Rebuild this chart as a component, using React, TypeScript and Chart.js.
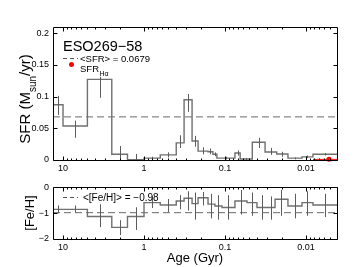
import React, { useEffect, useRef } from "react";
import { Chart, registerables } from "chart.js";

Chart.register(...registerables);

const FONT = "'Liberation Sans', Arial, Helvetica, sans-serif";

// Axis range (age in Gyr, reversed log axis)
const AGE_MIN = 0.00414;
const AGE_MAX = 13.3;
const xTickValues = [10, 1, 0.1, 0.01];
const xTickLabels = ["10", "1", "0.1", "0.01"];

const sfrTickValues = [0, 0.05, 0.1, 0.15, 0.2];
const sfrTickLabels = ["0", "0.05", "0.1", "0.15", "0.2"];
const SFR_MAX = 0.2095;

const fehTickValues = [-2, -1, 0];
const fehTickLabels = ["\u22122", "\u22121", "0"];

// SFR history (bin edges in Gyr, oldest first)
const sfrEdges = [13.3, 10, 5.0, 2.5, 1.6, 1.0, 0.63, 0.4, 0.32, 0.255, 0.215, 0.162, 0.141, 0.126, 0.0754, 0.065, 0.046, 0.032, 0.023, 0.0167, 0.0112, 0.0082, 0.00414];
const sfrValues = [0.087, 0.0536, 0.127, 0.009, 0.0005, 0.003, 0.008, 0.027, 0.095, 0.03, 0.014, 0.013, 0.009, 0.003, 0.011, 0.0015, 0.028, 0.0126, 0.0095, 0.003, 0.005, 0.009];
const sfrErrLo = [0.071, 0.035, 0.098, 0.0, 0.0, 0.001, 0.004, 0.019, 0.076, 0.021, 0.009, 0.009, 0.006, 0.001, 0.007, 0.0, 0.019, 0.008, 0.005, 0.001, 0.003, 0.007];
const sfrErrHi = [0.101, 0.062, 0.131, 0.022, 0.0095, 0.005, 0.012, 0.039, 0.104, 0.038, 0.02, 0.018, 0.012, 0.005, 0.015, 0.003, 0.035, 0.019, 0.013, 0.004, 0.007, 0.011];
const meanSfr = 0.0679;

// H-alpha SFR
const haAge = 0.0052;
const haSfr = 0.001;
const haRange = [0.0082, 0.00414];

// [Fe/H] history
const fehEdges = [13.3, 10, 5.0, 2.5, 1.6, 1.0, 0.63, 0.4, 0.32, 0.255, 0.215, 0.162, 0.133, 0.109, 0.0754, 0.0535, 0.0403, 0.0303, 0.0241, 0.0167, 0.0112, 0.0082, 0.00414];
const fehValues = [-0.85, -0.85, -1.13, -1.55, -1.13, -0.59, -0.68, -0.53, -0.42, -0.63, -0.4, -0.65, -0.72, -0.78, -0.53, -0.59, -0.78, -0.78, -0.46, -0.72, -0.59, -0.68];
const fehErrLo = [-1.0, -0.97, -1.54, -1.85, -1.65, -0.8, -0.95, -0.85, -0.9, -1.25, -0.7, -1.2, -1.25, -1.25, -1.05, -1.1, -1.25, -1.25, -1.1, -1.2, -1.1, -1.15];
const fehErrHi = [-0.7, -0.7, -0.65, -1.27, -0.77, -0.35, -0.45, -0.3, -0.15, -0.2, -0.18, -0.25, -0.3, -0.3, -0.1, -0.2, -0.3, -0.35, -0.1, -0.25, -0.15, -0.25];
const meanFeh = -0.98;

function histPoints(edges: number[], values: number[]) {
  const pts = values.map((v, i) => ({ x: edges[i], y: v }));
  pts.push({ x: edges[edges.length - 1], y: values[values.length - 1] });
  return pts;
}

function drawFrame(chart: any, yMajors: number[]) {
  const { ctx, chartArea: a, scales } = chart;
  const xs = scales.x;
  const ys = scales.y;
  ctx.save();
  ctx.strokeStyle = "#000";
  ctx.lineWidth = 1;
  const L = Math.round(a.left) + 0.5;
  const R = Math.round(a.right) + 0.5;
  const T = Math.round(a.top) + 0.5;
  const B = Math.round(a.bottom) + 0.5;
  ctx.beginPath();
  ctx.rect(L, T, R - L, B - T);
  for (let e = -3; e <= 1; e++) {
    for (let k = 1; k <= 9; k++) {
      const v = k * Math.pow(10, e);
      if (v < AGE_MIN || v > AGE_MAX) continue;
      const px = Math.round(xs.getPixelForValue(v)) + 0.5;
      const len = k === 1 ? 4 : 2;
      ctx.moveTo(px, B);
      ctx.lineTo(px, B - len);
      ctx.moveTo(px, T);
      ctx.lineTo(px, T + len);
    }
  }
  for (const v of yMajors) {
    const py = Math.round(ys.getPixelForValue(v)) + 0.5;
    ctx.moveTo(L, py);
    ctx.lineTo(L + 4, py);
    ctx.moveTo(R, py);
    ctx.lineTo(R - 4, py);
  }
  ctx.stroke();
  ctx.restore();
}

function drawErrorBars(chart: any, edges: number[], lo: number[], hi: number[], color: string) {
  const { ctx, chartArea: a, scales } = chart;
  ctx.save();
  ctx.beginPath();
  ctx.rect(a.left, a.top, a.right - a.left, a.bottom - a.top);
  ctx.clip();
  ctx.strokeStyle = color;
  ctx.lineWidth = 1;
  ctx.beginPath();
  for (let i = 0; i < lo.length; i++) {
    const xc = Math.sqrt(edges[i] * edges[i + 1]);
    const px = Math.round(scales.x.getPixelForValue(xc)) + 0.5;
    ctx.moveTo(px, scales.y.getPixelForValue(lo[i]));
    ctx.lineTo(px, scales.y.getPixelForValue(hi[i]));
  }
  ctx.stroke();
  ctx.restore();
}

function drawRotated(ctx: any, cx: number, cy: number, parts: { t: string; size: number; dy: number }[]) {
  ctx.save();
  ctx.translate(cx, cy);
  ctx.rotate(-Math.PI / 2);
  ctx.fillStyle = "#000";
  ctx.textBaseline = "middle";
  ctx.textAlign = "left";
  let total = 0;
  for (const p of parts) {
    ctx.font = `${p.size}px ${FONT}`;
    total += ctx.measureText(p.t).width;
  }
  let x = -total / 2;
  for (const p of parts) {
    ctx.font = `${p.size}px ${FONT}`;
    ctx.fillText(p.t, x, p.dy);
    x += ctx.measureText(p.t).width;
  }
  ctx.restore();
}

function dashSample(ctx: any, x0: number, x1: number, y: number) {
  ctx.save();
  ctx.strokeStyle = "#555";
  ctx.lineWidth = 1;
  ctx.setLineDash([4, 3]);
  ctx.beginPath();
  ctx.moveTo(x0, y);
  ctx.lineTo(x1, y);
  ctx.stroke();
  ctx.restore();
}

function xScale(height: number) {
  return {
    type: "logarithmic" as const,
    reverse: true,
    min: AGE_MIN,
    max: AGE_MAX,
    grid: { display: false, drawTicks: false },
    border: { display: false },
    afterBuildTicks: (s: any) => {
      s.ticks = xTickValues.map((v) => ({ value: v }));
    },
    afterFit: (s: any) => {
      s.height = height;
    },
    ticks: {
      autoSkip: false,
      maxRotation: 0,
      padding: 3,
      color: "#000",
      font: { family: FONT, size: 9 },
      callback: (_v: any, i: number) => xTickLabels[i],
    },
  };
}

function yScale(min: number, max: number, vals: number[], labels: string[]) {
  return {
    type: "linear" as const,
    min,
    max,
    grid: { display: false, drawTicks: false },
    border: { display: false },
    afterBuildTicks: (s: any) => {
      s.ticks = vals.map((v) => ({ value: v }));
    },
    afterFit: (s: any) => {
      s.width = 53;
    },
    ticks: {
      autoSkip: false,
      padding: 4,
      color: "#000",
      font: { family: FONT, size: 9 },
      callback: (_v: any, i: number) => labels[i],
    },
  };
}

const HIST_COLOR = "#707070";
const ERR_COLOR = "#5c5c5c";
const MEAN_COLOR = "#6a6a6a";

export default function App() {
  const topRef = useRef<HTMLCanvasElement>(null);
  const botRef = useRef<HTMLCanvasElement>(null);

  useEffect(() => {
    const topPlugin = {
      id: "topPanel",
      afterDatasetsDraw(chart: any) {
        drawErrorBars(chart, sfrEdges, sfrErrLo, sfrErrHi, ERR_COLOR);
      },
      afterDraw(chart: any) {
        const ctx = chart.ctx;
        drawFrame(chart, sfrTickValues);
        ctx.save();
        ctx.fillStyle = "#000";
        ctx.textBaseline = "alphabetic";
        ctx.textAlign = "left";
        ctx.font = `14.5px ${FONT}`;
        ctx.fillText("ESO269\u221258", 63, 50.5);
        ctx.font = `9.5px ${FONT}`;
        ctx.fillText("<SFR> = 0.0679", 80, 62);
        ctx.fillText("SFR", 80, 71.5);
        const w = ctx.measureText("SFR").width;
        ctx.font = `7px ${FONT}`;
        ctx.fillText("H\u03b1", 80 + w + 0.5, 76);
        ctx.fillStyle = "#ff0000";
        ctx.beginPath();
        ctx.arc(71.5, 64.5, 2.5, 0, Math.PI * 2);
        ctx.fill();
        ctx.restore();
        dashSample(ctx, 63, 78, 58.5);
        drawRotated(ctx, 26, 99, [
          { t: "SFR (M", size: 15, dy: 0 },
          { t: "sun", size: 10, dy: 7 },
          { t: "/yr)", size: 15, dy: 0 },
        ]);
      },
    };

    const botPlugin = {
      id: "botPanel",
      afterDatasetsDraw(chart: any) {
        drawErrorBars(chart, fehEdges, fehErrLo, fehErrHi, ERR_COLOR);
      },
      afterDraw(chart: any) {
        const ctx = chart.ctx;
        drawFrame(chart, fehTickValues);
        dashSample(ctx, 63, 78, 19.5);
        ctx.save();
        ctx.fillStyle = "#000";
        ctx.textAlign = "left";
        ctx.textBaseline = "alphabetic";
        ctx.font = `10px ${FONT}`;
        ctx.fillText("<[Fe/H]> = \u22120.98", 83, 23);
        ctx.font = `13px ${FONT}`;
        ctx.textAlign = "center";
        ctx.textBaseline = "middle";
        ctx.fillText("Age (Gyr)", 195, 80);
        ctx.restore();
        drawRotated(ctx, 30, 35, [{ t: "[Fe/H]", size: 13, dy: 0 }]);
      },
    };

    const top = new Chart(topRef.current as HTMLCanvasElement, {
      type: "line",
      data: {
        datasets: [
          {
            data: histPoints(sfrEdges, sfrValues),
            stepped: "before",
            borderColor: HIST_COLOR,
            borderWidth: 1.4,
            pointRadius: 0,
            fill: false,
          },
          {
            data: [
              { x: AGE_MAX, y: meanSfr },
              { x: AGE_MIN, y: meanSfr },
            ],
            borderColor: MEAN_COLOR,
            borderWidth: 1,
            borderDash: [7, 4],
            pointRadius: 0,
            fill: false,
          },
          {
            data: [
              { x: haRange[0], y: haSfr },
              { x: haRange[1], y: haSfr },
            ],
            borderColor: "#ff0000",
            borderWidth: 1,
            pointRadius: 0,
            fill: false,
            clip: false as any,
          },
          {
            data: [{ x: haAge, y: haSfr }],
            showLine: false,
            pointRadius: 2.5,
            pointBackgroundColor: "#ff0000",
            pointBorderColor: "#ff0000",
            pointBorderWidth: 0,
            clip: false as any,
          },
        ],
      } as any,
      options: {
        animation: false,
        responsive: false,
        devicePixelRatio: 1,
        events: [],
        layout: { padding: { top: 27, right: 18, left: 0, bottom: 0 } },
        plugins: { legend: { display: false }, tooltip: { enabled: false } },
        scales: {
          x: xScale(18),
          y: yScale(0, SFR_MAX, sfrTickValues, sfrTickLabels),
        } as any,
      },
      plugins: [topPlugin],
    });

    const bot = new Chart(botRef.current as HTMLCanvasElement, {
      type: "line",
      data: {
        datasets: [
          {
            data: histPoints(fehEdges, fehValues),
            stepped: "before",
            borderColor: HIST_COLOR,
            borderWidth: 1.4,
            pointRadius: 0,
            fill: false,
          },
          {
            data: [
              { x: AGE_MAX, y: meanFeh },
              { x: AGE_MIN, y: meanFeh },
            ],
            borderColor: MEAN_COLOR,
            borderWidth: 1,
            borderDash: [7, 4],
            pointRadius: 0,
            fill: false,
          },
        ],
      } as any,
      options: {
        animation: false,
        responsive: false,
        devicePixelRatio: 1,
        events: [],
        layout: { padding: { top: 9, right: 18, left: 0, bottom: 0 } },
        plugins: { legend: { display: false }, tooltip: { enabled: false } },
        scales: {
          x: xScale(28),
          y: yScale(-2, 0, fehTickValues, fehTickLabels),
        } as any,
      },
      plugins: [botPlugin],
    });

    return () => {
      top.destroy();
      bot.destroy();
    };
  }, []);

  return (
    <div style={{ position: "fixed", left: 0, top: 0, width: 355, height: 267, background: "#fff" }}>
      <canvas ref={topRef} width={355} height={178} style={{ position: "absolute", left: 0, top: 0 }} />
      <canvas ref={botRef} width={355} height={89} style={{ position: "absolute", left: 0, top: 178 }} />
    </div>
  );
}
